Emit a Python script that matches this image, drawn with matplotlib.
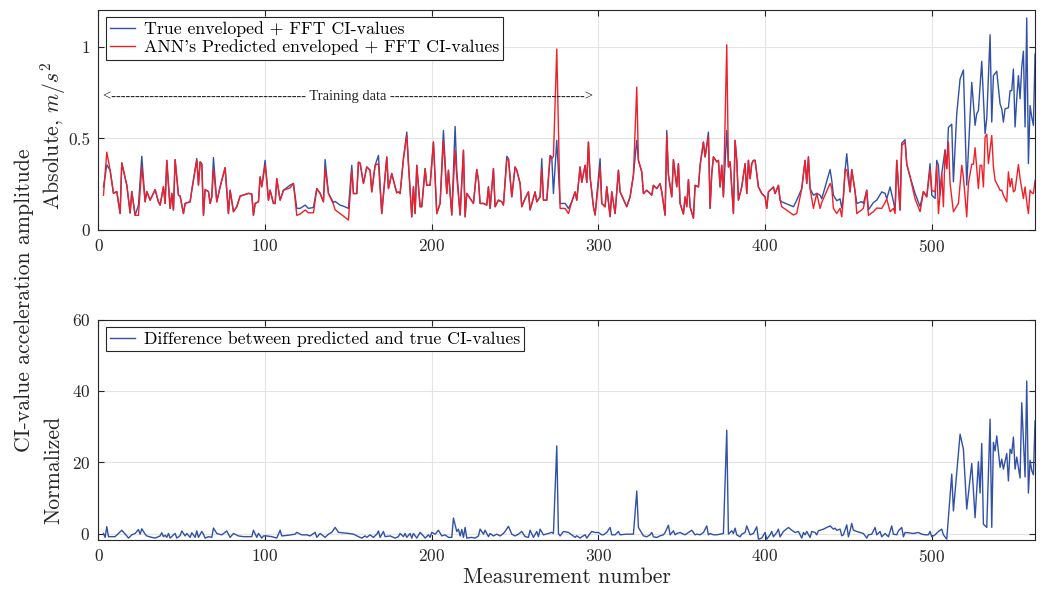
import matplotlib.pyplot as plt

plt.rcParams['font.family'] = 'serif'
plt.rcParams['font.serif'] = ['cmr10', 'DejaVu Serif']
plt.rcParams['mathtext.fontset'] = 'cm'
plt.rcParams['axes.formatter.use_mathtext'] = True

# Measurement numbers and CI-values (absolute, m/s^2) up to the end of the shared part
meas = [3, 5, 7, 9, 11, 13, 14, 17, 19, 20, 22, 24, 26, 28, 29, 31, 34, 36, 37, 39,
        40, 41, 43, 44, 45, 46, 48, 49, 51, 52, 55, 56, 59, 60, 61, 62, 63, 64, 66, 67,
        68, 69, 71, 73, 76, 78, 79, 81, 83, 85, 90, 92, 93, 94, 96, 97, 98, 100, 101, 102,
        103, 105, 106, 107, 109, 111, 115, 117, 119, 121, 124, 126, 129, 131, 133, 135, 136, 138, 141, 142,
        145, 147, 150, 152, 153, 155, 156, 157, 159, 161, 163, 164, 166, 168, 170, 173, 174, 176, 178, 179,
        180, 181, 183, 185, 186, 188, 189, 190, 191, 193, 194, 196, 197, 199, 201, 203, 205, 207, 209, 210,
        212, 214, 215, 217, 219, 220, 221, 223, 225, 227, 228, 229, 231, 233, 234, 235, 237, 238, 240, 242,
        243, 245, 246, 248, 250, 251, 253, 254, 256, 258, 259, 262, 263, 265, 266, 267, 269, 271, 272, 273,
        275, 277, 280, 282, 284, 286, 287, 289, 290, 292, 293, 294, 295, 297, 298, 301, 302, 304, 305, 307,
        308, 310, 312, 313, 317, 319, 321, 323, 324, 326, 327, 329, 332, 333, 335, 337, 338, 340, 341, 342,
        344, 345, 347, 348, 349, 351, 352, 353, 354, 355, 357, 358, 360, 361, 363, 364, 366, 367, 368, 369,
        371, 372, 373, 374, 375, 377, 378, 379, 381, 382, 383, 384, 386, 388, 389, 390, 391, 392, 393, 394,
        396, 398, 400, 401, 402, 405, 406, 408, 409, 410, 417, 419, 422, 424, 425, 426, 427, 429, 431, 433,
        434, 439, 440, 441, 443, 445, 446, 447, 448, 449, 451, 452, 454, 455, 458, 459, 461, 462, 465, 467,
        470, 472, 473, 475, 477, 478, 479, 481, 482, 484, 485, 487, 490, 493, 495, 497, 499]

true_ci = [.235, .355, .326, .20, .21, .09, .366, .245, .093, .21, .08, .136, .402, .154, .21, .163, .22, .154, .136, .236,
           .145, .38, .118, .20, .109, .384, .19, .185, .09, .145, .154, .217, .39, .245, .372, .36, .08, .22, .21, .145,
           .18, .395, .154, .236, .34, .09, .217, .10, .127, .185, .20, .196, .08, .145, .154, .29, .236, .38, .27, .163,
           .217, .145, .145, .28, .163, .217, .245, .254, .118, .118, .136, .118, .123, .226, .20, .154, .384, .20, .15, .156,
           .136, .13, .118, .353, .199, .199, .37, .365, .254, .344, .326, .208, .353, .407, .09, .398, .226, .308, .236, .203,
           .208, .199, .389, .534, .362, .072, .236, .09, .353, .127, .127, .335, .244, .244, .48, .09, .145, .543, .199, .326,
           .082, .565, .326, .082, .435, .072, .20, .172, .145, .33, .272, .145, .145, .136, .236, .118, .335, .127, .163, .154,
           .136, .402, .39, .181, .344, .326, .254, .127, .172, .208, .11, .208, .154, .181, .389, .163, .163, .407, .398, .199,
           .489, .145, .145, .118, .154, .208, .163, .344, .26, .353, .26, .48, .289, .127, .082, .389, .145, .127, .236, .073,
           .208, .09, .326, .208, .127, .181, .30, .489, .38, .317, .199, .217, .19, .244, .226, .253, .208, .081, .543, .30,
           .181, .384, .236, .362, .145, .087, .181, .127, .275, .127, .064, .244, .235, .353, .48, .399, .534, .118, .308, .399,
           .372, .38, .235, .353, .181, .543, .344, .372, .09, .489, .38, .163, .235, .362, .199, .38, .28, .362, .38, .38,
           .235, .199, .181, .118, .208, .235, .199, .244, .163, .154, .127, .163, .226, .38, .254, .399, .226, .19, .20, .19,
           .17, .33, .27, .19, .16, .17, .12, .181, .326, .416, .208, .33, .21, .145, .155, .145, .217, .11, .15, .163,
           .208, .20, .17, .235, .155, .11, .38, .109, .474, .493, .36, .29, .20, .127, .21, .181, .362]

pred_ci = [.19, .425, .326, .20, .21, .09, .366, .245, .093, .21, .08, .08, .345, .154, .21, .163, .22, .154, .136, .236,
           .145, .38, .118, .20, .109, .384, .19, .185, .09, .145, .154, .217, .38, .245, .372, .36, .08, .22, .21, .145,
           .18, .335, .154, .236, .34, .09, .217, .10, .127, .185, .20, .196, .08, .145, .154, .29, .236, .353, .27, .163,
           .217, .145, .145, .28, .163, .217, .23, .254, .08, .087, .109, .094, .094, .226, .20, .154, .335, .20, .14, .11,
           .09, .076, .054, .326, .199, .199, .37, .365, .254, .344, .326, .208, .353, .362, .09, .398, .226, .308, .236, .203,
           .208, .199, .389, .516, .362, .072, .236, .09, .353, .127, .127, .335, .244, .244, .48, .09, .145, .489, .199, .326,
           .082, .435, .29, .082, .435, .072, .20, .172, .145, .33, .272, .145, .145, .136, .236, .118, .335, .127, .163, .154,
           .136, .38, .39, .181, .344, .326, .254, .127, .172, .208, .11, .208, .154, .181, .335, .163, .163, .398, .39, .40,
           .987, .118, .118, .09, .154, .208, .163, .344, .26, .353, .26, .48, .289, .127, .082, .344, .145, .127, .236, .073,
           .208, .09, .326, .208, .127, .181, .30, .779, .38, .317, .199, .217, .19, .244, .226, .253, .208, .081, .516, .30,
           .181, .384, .236, .362, .145, .087, .181, .127, .275, .127, .064, .244, .235, .353, .48, .399, .51, .118, .308, .399,
           .372, .38, .235, .353, .181, 1.01, .344, .372, .09, .489, .38, .163, .235, .362, .199, .38, .28, .362, .38, .38,
           .235, .199, .181, .118, .208, .235, .199, .244, .163, .127, .082, .09, .226, .38, .254, .399, .226, .118, .20, .118,
           .15, .254, .23, .118, .09, .118, .072, .181, .326, .33, .208, .33, .21, .09, .11, .12, .217, .08, .10, .12,
           .118, .15, .17, .10, .118, .09, .38, .109, .46, .48, .36, .29, .17, .10, .21, .181, .33]

# Last part, where the prediction drifts away from the measured values
meas_tail_true = [500, 502, 503, 504, 505, 506, 508, 509, 510, 512, 513, 515, 517, 519, 521, 524, 526, 527, 528, 530,
                  532, 533, 535, 536, 537, 539, 541, 542, 543, 544, 546, 547, 548, 549, 550, 551, 552, 553, 554, 555,
                  556, 557, 558, 559, 560, 561, 562]
true_tail = [.19, .172, .38, .353, .19, .308, .438, .335, .56, .577, .263, .634, .824, .873, .245, .806, .571, .634, .652, .92,
             .525, .607, 1.065, .589, .842, .866, .688, .661, .589, .661, .667, .76, .76, .878, .562, .716, .842, .716, .888, .975,
             .562, 1.156, .362, .679, .616, .571, .96]

meas_tail_pred = [500, 502, 503, 504, 506, 507, 508, 509, 510, 511, 513, 516, 518, 519, 521, 522, 524, 525, 526, 528,
                  529, 530, 531, 532, 533, 534, 536, 537, 538, 539, 541, 542, 543, 545, 546, 547, 548, 549, 550, 552,
                  553, 555, 556, 557, 558, 559, 560, 561, 562]
pred_tail = [.217, .208, .353, .09, .308, .127, .435, .335, .48, .254, .10, .145, .353, .29, .072, .254, .359, .359, .449, .226,
             .353, .353, .235, .507, .522, .362, .516, .344, .272, .254, .217, .217, .19, .154, .317, .235, .281, .208, .217, .357,
             .281, .172, .235, .154, .09, .217, .203, .199, .271]

# Normalized difference between predicted and true CI-values
diff_meas = [3, 4, 5, 6, 10, 12, 14, 17, 18, 20, 22, 24, 25, 26, 28, 29, 32, 34, 37, 38,
             39, 40, 41, 42, 43, 45, 46, 47, 49, 50, 52, 53, 55, 56, 58, 59, 60, 62, 63, 64,
             66, 68, 69, 71, 74, 77, 79, 81, 84, 87, 90, 92, 93, 95, 96, 98, 99, 101, 104, 107,
             109, 110, 114, 118, 119, 122, 125, 127, 130, 131, 133, 136, 138, 140, 142, 144, 150, 153, 156, 158,
             160, 161, 163, 165, 167, 168, 169, 171, 172, 175, 178, 180, 181, 183, 184, 185, 187, 188, 189, 191,
             193, 195, 196, 198, 199, 200, 202, 204, 206, 208, 210, 212, 213, 215, 216, 217, 218, 219, 220, 221,
             224, 226, 228, 229, 231, 232, 234, 235, 237, 239, 241, 243, 244, 246, 248, 250, 252, 254, 256, 258,
             259, 261, 263, 264, 265, 267, 270, 272, 273, 275, 276, 277, 279, 282, 284, 286, 287, 289, 290, 292,
             293, 295, 296, 298, 300, 302, 303, 305, 307, 308, 310, 312, 313, 317, 321, 323, 324, 325, 327, 329,
             331, 332, 333, 335, 337, 339, 340, 342, 343, 345, 346, 347, 349, 351, 352, 354, 356, 358, 359, 361,
             363, 365, 366, 367, 369, 371, 373, 375, 377, 378, 380, 381, 382, 383, 385, 386, 388, 389, 391, 393,
             395, 396, 398, 400, 401, 403, 404, 405, 407, 408, 409, 411, 414, 416, 418, 420, 422, 423, 424, 425,
             427, 428, 430, 431, 432, 435, 437, 439, 441, 442, 443, 445, 446, 447, 449, 450, 451, 452, 453, 455,
             457, 459, 461, 462, 464, 466, 467, 469, 470, 472, 474, 476, 477, 479, 480, 482, 483, 484, 486, 489,
             492, 494, 496, 498, 499, 500, 502, 504, 506, 507, 509, 512, 513, 517, 519, 521, 524, 526, 528, 529,
             530, 531, 533, 535, 536, 537, 538, 539, 541, 542, 543, 545, 546, 547, 548, 549, 550, 551, 553, 554,
             556, 557, 558, 559, 560, 561, 562]
diff_norm = [0.1, -1.0, 2.0, -0.8, -0.8, 0.1, 1.0, -0.6, -1.2, -0.3, 0.1, 1.2, -0.1, 1.4, -0.1, -0.6, -1.0, -1.2, -0.6, 0.3,
             -0.8, -0.4, -1.0, 0.1, -1.2, -0.3, 0.1, -1.2, -0.5, 0.8, -0.6, 0.1, -1.0, 0.3, -1.0, 0.8, -1.0, 0.65, -0.1, -1.2,
             -0.8, -1.0, 1.6, 0.1, -0.3, 0.8, -1.0, 0.1, -0.6, -0.8, -0.8, -0.8, 1.0, -1.0, 0.1, -1.2, -0.6, -0.6, -0.8, -1.2,
             1.0, -0.6, -0.4, -0.1, 0.4, -0.3, -0.3, -0.6, 0.4, -1.0, 0.1, -1.0, -0.1, 0.4, 1.8, 0.4, 0.1, -0.1, -0.8, -1.2,
             -0.6, -1.0, -0.3, -1.0, -0.1, 0.8, -1.0, 0.65, -0.8, -0.6, -1.2, -0.8, 0.1, -0.8, 0.1, -1.0, 0.1, -1.2, 0.1, -1.2,
             0.4, -0.6, -1.2, -0.3, -1.0, 0.4, -0.1, 1.0, -0.6, -0.3, -1.0, -1.0, 4.4, 0.65, 1.3, -0.6, 1.2, -1.0, 1.8, -1.2,
             -1.0, -1.2, -0.6, 1.3, -0.1, 1.0, -0.8, 0.1, -0.6, -0.1, -0.6, 0.1, 0.65, 2.1, -0.1, -0.6, -0.1, 0.65, -0.8, -1.0,
             1.0, -1.0, 0.65, -0.8, 1.3, -0.3, 0.1, 0.4, 0.1, 24.6, 0.1, -0.6, 0.65, 0.4, -0.3, -1.0, -0.56, -1.2, -0.84, -0.28,
             -1.2, 0.09, 0.65, 0.37, 0.37, -0.28, -0.28, 0.37, 1.77, -0.28, -0.28, 0.65, -0.28, -0.1, -0.1, 12.0, 1.77, 1.0, -0.56, -0.84,
             -0.28, 0.37, -0.84, -1.03, -0.56, -0.28, 0.37, 2.4, -0.28, 0.84, -0.28, 0.09, 0.37, -0.1, -0.28, 0.37, 1.0, -0.28, -0.1, -0.28,
             0.37, 2.2, -0.28, 0.09, -0.28, -0.28, -0.1, 0.09, 29.0, -0.1, 0.84, 0.09, 1.58, -0.28, -0.84, -0.1, 0.37, 2.2, -0.28, 0.09,
             1.96, -1.5, -1.2, 0.37, -1.5, -0.28, 0.65, -0.84, 0.37, 1.3, -0.84, 0.65, 1.77, 1.0, 0.37, 0.65, -1.2, 0.37, -0.28, 0.65,
             -1.03, 0.65, 0.37, -0.28, 0.84, 1.3, 1.77, 2.2, 1.3, 1.58, 1.0, 1.3, -0.56, -0.28, 2.5, -0.84, 0.84, 2.9, 1.0, 0.65,
             0.37, 0.09, -1.2, -0.28, -0.1, 1.77, -0.28, 0.65, -0.84, 0.09, -0.84, 2.2, -0.1, -0.28, 0.84, 1.77, -0.84, 0.37, 0.28, 0.09,
             0.37, -0.1, -0.28, -0.28, 0.65, -0.84, -0.28, 0.65, 1.3, -0.28, -1.5, 16.7, 6.4, 27.9, 23.7, 6.9, 19.7, 4.5, 20.2, 11.4,
             25.3, 2.7, 1.8, 32.1, 1.8, 25.6, 23.2, 27.4, 18.6, 20.9, 18.1, 22.5, 14.8, 23.7, 22.5, 27.1, 18.1, 21.5, 15.6, 36.7,
             15.9, 42.8, 11.4, 20.6, 17.7, 16.5, 31.6]

x_ticks = [0, 100, 200, 300, 400, 500]
top_yticks = [0, 0.5, 1]
bottom_yticks = [0, 20, 40, 60]

BLUE = '#3150a7'
RED = '#f01f28'
DARK = '#262626'

fig = plt.figure(figsize=(10.43, 5.93), dpi=100)
ax1 = fig.add_axes([0.0944, 0.6121, 0.898, 0.371])
ax2 = fig.add_axes([0.0944, 0.0902, 0.898, 0.371])

ax1.plot(meas + meas_tail_true, true_ci + true_tail, color=BLUE, lw=1.0,
         label='True enveloped + FFT CI-values')
ax1.plot(meas + meas_tail_pred, pred_ci + pred_tail, color=RED, lw=1.0,
         label="ANN's Predicted enveloped + FFT CI-values")
ax1.set_ylim(0, 1.2)
ax1.set_yticks(top_yticks)
ax1.set_yticklabels(['0', '0.5', '1'])

ax2.plot(diff_meas, diff_norm, color=BLUE, lw=1.0,
         label='Difference between predicted and true CI-values')
ax2.set_ylim(-1.6, 60)
ax2.set_yticks(bottom_yticks)

for ax in (ax1, ax2):
    ax.set_xlim(0, 562)
    ax.set_xticks(x_ticks)
    ax.grid(True, color='#e4e4e4', lw=0.8)
    ax.set_axisbelow(True)
    ax.tick_params(direction='in', top=True, right=True, length=4, width=0.8,
                   labelsize=12.5, colors=DARK, pad=6)
    for sp in ax.spines.values():
        sp.set_color(DARK)
        sp.set_linewidth(0.8)
    leg = ax.legend(loc='upper left', fancybox=False, edgecolor=DARK, framealpha=1,
                    fontsize=12.8, handlelength=1.4, handletextpad=0.5, borderpad=0.25,
                    labelspacing=0.12, borderaxespad=0.4)
    leg.get_frame().set_linewidth(0.8)

# training range marker
ax1.text(149.6, 0.73, '<' + '-' * 41 + ' Training data ' + '-' * 41 + '>',
         family='Liberation Serif', fontsize=10.5, color=DARK, ha='center', va='center')

ax2.set_xlabel('Measurement number', fontsize=15.7, color=DARK, labelpad=2)

fig.text(0.023, 0.494, 'CI-value acceleration amplitude', rotation=90,
         fontsize=15.7, color=DARK, ha='center', va='center')
fig.text(0.051, 0.77, 'Absolute, $m/s^2$', rotation=90,
         fontsize=15.7, color=DARK, ha='center', va='center')
fig.text(0.051, 0.207, 'Normalized', rotation=90,
         fontsize=15.7, color=DARK, ha='center', va='center')

fig.savefig('out.png', dpi=100)
